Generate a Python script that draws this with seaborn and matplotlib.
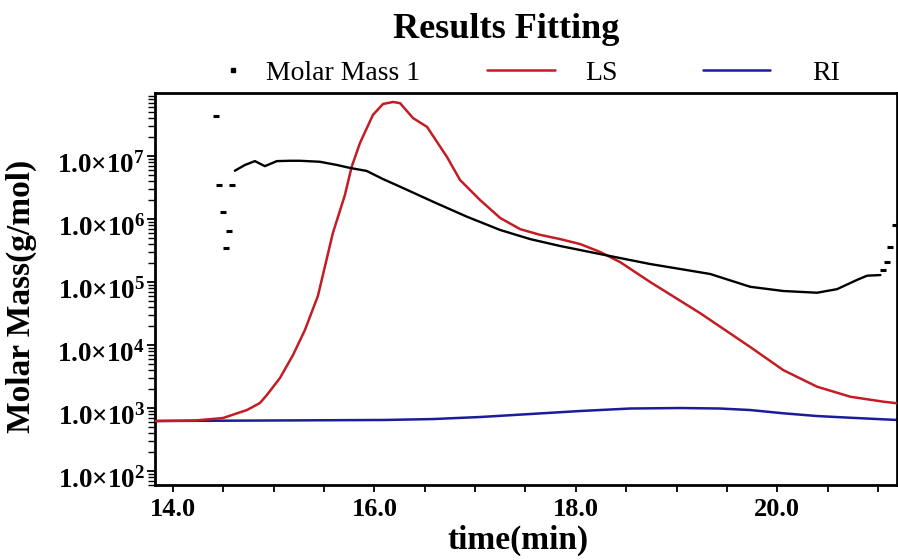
import numpy as np
import pandas as pd
import matplotlib
matplotlib.use("Agg")
import matplotlib.pyplot as plt
from matplotlib.lines import Line2D
from matplotlib.transforms import ScaledTranslation
from matplotlib.ticker import FixedLocator, MultipleLocator, LogLocator, NullFormatter, FuncFormatter
import seaborn as sns

# ---- data -------------------------------------------------------------
# Molar Mass 1: continuous trace (time in min, molar mass in g/mol)
mm_time = [14.613, 14.713, 14.812, 14.911, 15.031, 15.160, 15.259, 15.458,
           15.627, 15.760, 15.922, 16.085, 16.254, 16.582, 16.917, 17.248,
           17.546, 17.844, 18.142, 18.440, 18.738, 19.036, 19.335, 19.732,
           20.060, 20.396, 20.594, 20.793, 20.893, 21.025]
mm_value = [5.84e6, 7.2e6, 8.3e6, 6.9e6, 8.3e6, 8.4e6, 8.4e6, 8.1e6,
            7.2e6, 6.45e6, 5.8e6, 4.3e6, 3.26e6, 1.88e6, 1.09e6, 6.7e5,
            4.8e5, 3.73e5, 2.99e5, 2.4e5, 1.93e5, 1.61e5, 1.34e5, 8.4e4,
            7.2e4, 6.76e4, 7.7e4, 1.08e5, 1.26e5, 1.29e5]

# Molar Mass 1: isolated slices at the edges of the peak
mm_sparse_time = [14.424, 14.455, 14.584, 14.491, 14.554, 14.524,
                  21.055, 21.090, 21.124, 21.174]
mm_sparse_value = [4.37e7, 3.47e6, 3.47e6, 1.29e6, 6.46e5, 3.5e5,
                   1.55e5, 2.1e5, 3.6e5, 8.0e5]

# LS detector trace
ls_time = [13.818, 14.217, 14.494, 14.733, 14.862, 14.931, 15.061, 15.190,
           15.309, 15.438, 15.587, 15.706, 15.773, 15.856, 15.985, 16.085,
           16.184, 16.254, 16.383, 16.522, 16.721, 16.850, 17.049, 17.248,
           17.447, 17.646, 17.844, 18.043, 18.242, 18.440, 18.738, 19.235,
           19.732, 20.060, 20.396, 20.727, 21.055, 21.190]
ls_value = [622, 634, 693, 929, 1200, 1607, 2990, 6.9e3,
            1.73e4, 6.0e4, 6.0e5, 2.4e6, 6.7e6, 1.61e7, 4.5e7, 6.7e7,
            7.2e7, 6.9e7, 4.0e7, 2.9e7, 9.6e6, 4.16e6, 2.0e6, 1.04e6,
            6.9e5, 5.6e5, 4.8e5, 4.0e5, 3.0e5, 2.07e5, 1.0e5, 3.2e4,
            9.3e3, 4.0e3, 2.18e3, 1.51e3, 1.26e3, 1.19e3]

# RI detector trace
ri_time = [13.818, 16.100, 16.580, 17.050, 17.546, 18.040, 18.540, 19.040,
           19.430, 19.732, 20.060, 20.396, 20.727, 21.190]
ri_value = [622, 646, 668, 720, 803, 896, 982, 1000,
            982, 929, 825, 746, 701, 646]

x_ticks = [14.0, 16.0, 18.0, 20.0]
y_ticks = [1e2, 1e3, 1e4, 1e5, 1e6, 1e7]

legend_labels = ["Molar Mass 1", "LS", "RI"]

# ---- style ------------------------------------------------------------
sns.set_theme(style="white")
plt.rcParams["font.family"] = ["Liberation Serif", "DejaVu Serif"]
plt.rcParams["mathtext.fontset"] = "custom"
plt.rcParams["mathtext.rm"] = "Liberation Serif"
plt.rcParams["mathtext.bf"] = "Liberation Serif:bold"
plt.rcParams["mathtext.default"] = "bf"
for key in ["text.color", "axes.labelcolor", "xtick.color", "ytick.color",
            "xtick.labelcolor", "ytick.labelcolor"]:
    plt.rcParams[key] = "black"

LS_COLOR = "#c41c24"
RI_COLOR = "#1c1c9a"
MM_COLOR = "black"

fig = plt.figure(figsize=(8.98, 5.60), dpi=100)
ax = fig.add_axes([155 / 898, 75 / 560, 742 / 898, 392 / 560])

df_mm = pd.DataFrame({"time": mm_time, "mass": mm_value})
df_mm_sparse = pd.DataFrame({"time": mm_sparse_time, "mass": mm_sparse_value})
df_ls = pd.DataFrame({"time": ls_time, "mass": ls_value})
df_ri = pd.DataFrame({"time": ri_time, "mass": ri_value})

sns.lineplot(data=df_ri, x="time", y="mass", ax=ax, color=RI_COLOR,
             linewidth=1.8, zorder=2)
sns.lineplot(data=df_ls, x="time", y="mass", ax=ax, color=LS_COLOR,
             linewidth=1.8, zorder=3)
sns.lineplot(data=df_mm, x="time", y="mass", ax=ax, color=MM_COLOR,
             linewidth=1.7, zorder=4)
sns.lineplot(data=df_mm_sparse, x="time", y="mass", ax=ax, color=MM_COLOR,
             linestyle="", marker="_", markersize=5, markeredgewidth=2.2,
             markeredgecolor=MM_COLOR, zorder=4)

ax.set_yscale("log")
ax.set_xlim(13.82, 21.19)
ax.set_ylim(60, 1e8)

# ---- axes decoration --------------------------------------------------
for side in ["left", "right", "top", "bottom"]:
    ax.spines[side].set_visible(True)
    ax.spines[side].set_color("black")
    ax.spines[side].set_linewidth(2.0)

ax.xaxis.set_major_locator(FixedLocator(x_ticks))
ax.xaxis.set_minor_locator(MultipleLocator(0.5))
ax.xaxis.set_major_formatter(FuncFormatter(lambda v, p: f"{v:.1f}"))

ax.yaxis.set_major_locator(FixedLocator(y_ticks))
ax.yaxis.set_minor_locator(LogLocator(base=10, subs=np.arange(2, 10)))
ax.yaxis.set_minor_formatter(NullFormatter())
ax.yaxis.set_major_formatter(
    FuncFormatter(lambda v, p: "1.0×10$^{%d}$" % int(round(np.log10(v)))))

ax.tick_params(axis="both", which="both", direction="out", color="black",
               labelcolor="black", bottom=True, left=True, top=False,
               right=False)
ax.tick_params(axis="x", which="major", length=5, width=1.3, pad=4,
               labelsize=19)
ax.tick_params(axis="x", which="minor", length=5, width=1.3)
ax.tick_params(axis="y", which="major", length=6, width=1.3, pad=1,
               labelsize=19.5)
ax.tick_params(axis="y", which="minor", length=5, width=1.0)
for lab in ax.get_xticklabels() + ax.get_yticklabels():
    lab.set_fontweight("bold")

ax.set_xlabel("time(min)", fontsize=24, fontweight="bold", color="black")
ax.set_ylabel("Molar Mass(g/mol)", fontsize=24, fontweight="bold",
              color="black")
ax.xaxis.set_label_coords(0.489, -0.102)
ax.yaxis.set_label_coords(-0.159, 0.482)

# ---- title and legend row ---------------------------------------------
fig.text(506 / 898, 1 - 38 / 560, "Results Fitting", ha="center",
         va="baseline", fontsize=26, fontweight="bold", color="black")

leg_y = 1 - 70 / 560
fig.add_artist(Line2D([233 / 898], [leg_y], transform=fig.transFigure,
                      marker="s", markersize=2.3, color=MM_COLOR,
                      linestyle=""))
fig.add_artist(Line2D([487 / 898, 555 / 898], [leg_y, leg_y],
                      transform=fig.transFigure, color=LS_COLOR,
                      linewidth=1.8))
fig.add_artist(Line2D([703 / 898, 770 / 898], [leg_y, leg_y],
                      transform=fig.transFigure, color=RI_COLOR,
                      linewidth=1.8))
for x_px, text in zip([266, 585, 812], legend_labels):
    fig.text(x_px / 898, leg_y, text, ha="left", va="center_baseline",
             fontsize=20, color="black")

# the y tick labels sit a little below their tick marks
fig.canvas.draw()
shift = ScaledTranslation(0, -6 / 100, fig.dpi_scale_trans)
for tick in ax.yaxis.get_major_ticks():
    tick.label1.set_transform(tick.label1.get_transform() + shift)

fig.savefig("out.png", dpi=100)
